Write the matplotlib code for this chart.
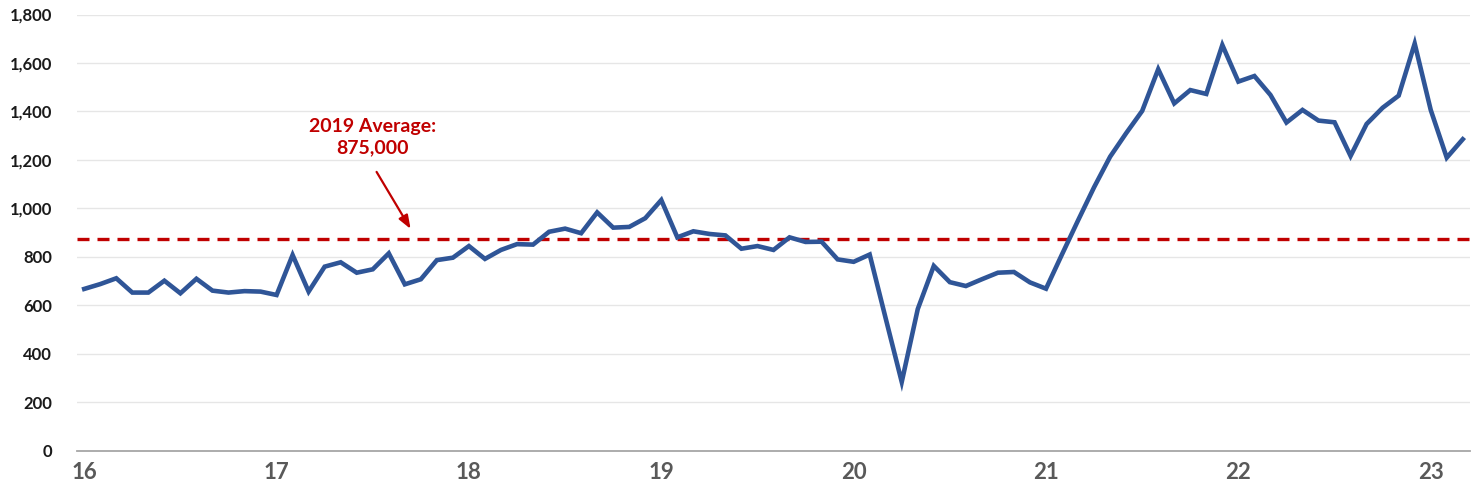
import numpy as np
import matplotlib
matplotlib.use("Agg")
import matplotlib.pyplot as plt

# Monthly values (thousands), Jan 2016 - Mar 2023
values = [667, 687, 711, 652, 652, 701, 649, 709, 660, 652, 658, 656,
          642, 807, 656, 759, 777, 734, 748, 814, 686, 707, 786, 796,
          844, 791, 828, 852, 850, 903, 916, 897, 983, 920, 923, 959,
          1034, 880, 905, 894, 888, 833, 844, 828, 880, 861, 862, 789,
          779, 809, 545, 283, 584, 762, 695, 679, 707, 734, 737, 694,
          668, 810, 950, 1087, 1213, 1310, 1402, 1574, 1433, 1488, 1472, 1674,
          1523, 1546, 1468, 1354, 1406, 1362, 1355, 1216, 1348, 1415, 1465, 1680,
          1406, 1209, 1285]
year_labels = ["16", "17", "18", "19", "20", "21", "22", "23"]
avg_2019 = 875
avg_label = "2019 Average:\n875,000"

plt.rcParams['font.family'] = ['Lato', 'DejaVu Sans']

fig = plt.figure(figsize=(14.78, 4.95), dpi=100)
ax = fig.add_axes([77 / 1478, 44.5 / 495, (1470 - 77) / 1478, (450.5 - 14.5) / 495])

x = np.arange(len(values))
ax.plot(x, values, color="#2F5597", lw=3.3, solid_joinstyle="miter", zorder=3)
ax.axhline(avg_2019, color="#C00000", lw=2.4, ls=(0, (3.6, 2.4)), zorder=2)

ax.set_xlim(-0.45, 86.45)
ax.set_ylim(0, 1800)
ax.set_yticks(np.arange(0, 1801, 200))
ax.set_yticklabels([f"{v:,}" for v in range(0, 1801, 200)])
ax.set_xticks(np.arange(0, 12 * len(year_labels), 12))
ax.set_xticklabels(year_labels)

ax.grid(axis="y", color="#E6E6E6", lw=1)
ax.set_axisbelow(True)
for s in ["top", "right", "left"]:
    ax.spines[s].set_visible(False)
ax.spines["bottom"].set_color("#A6A6A6")
ax.spines["bottom"].set_linewidth(1.3)
ax.spines["bottom"].set_zorder(1)

ax.tick_params(axis="y", length=0, pad=18, labelsize=12, labelcolor="#1A1A1A")
ax.tick_params(axis="x", length=0, pad=8, labelsize=16, labelcolor="#595959")
for lbl in ax.get_yticklabels() + ax.get_xticklabels():
    lbl.set_fontweight("bold")

ax.text(17.96, 1293, avg_label, color="#C00000", fontsize=14, fontweight="bold",
        ha="center", va="center", linespacing=1.3)
ax.annotate("", xy=(20.45, 905), xytext=(18.15, 1160),
            arrowprops=dict(arrowstyle="-|>,head_length=0.8,head_width=0.3",
                            color="#C00000", lw=1.6))

fig.savefig("out.png", dpi=100, facecolor="white")
